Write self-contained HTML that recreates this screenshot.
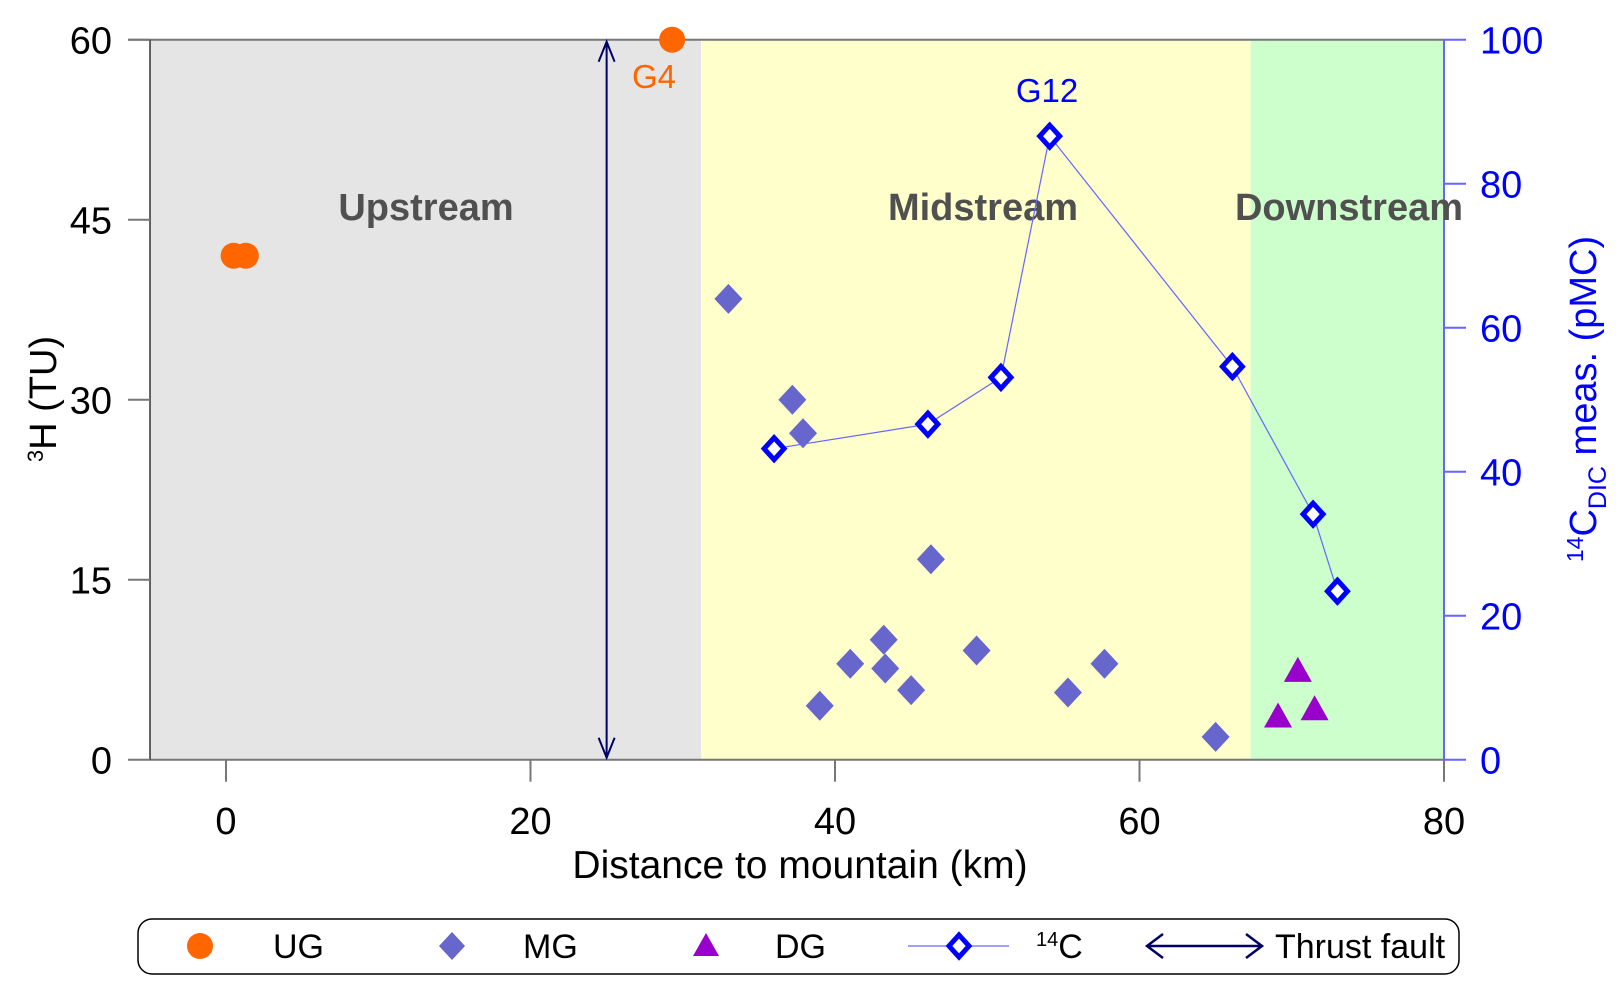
<!DOCTYPE html>
<html><head><meta charset="utf-8"><style>
body{margin:0;background:#fff;}
svg{display:block;font-family:"Liberation Sans",Arial,sans-serif;}
</style></head><body>
<svg id="chart" width="1618" height="992" viewBox="0 0 1618 992">
<g id="bg"></g><g id="axes"></g><g id="marks"></g><g id="legend"></g>
</svg>
<script>
const ugX=[0.5,1.3,29.3];
const ugY=[42,42,60];
const mgX=[33.0,37.2,37.9,46.3,43.2,41.0,43.3,49.3,45.0,39.0,55.3,57.7,65.0];
const mgY=[38.4,30,27.2,16.7,10.0,8.0,7.6,9.1,5.8,4.5,5.6,8.0,1.9];
const dgX=[69.1,70.4,71.5];
const dgY=[3.6,7.4,4.2];
const cX=[36.0,46.1,50.9,54.1,66.1,71.4,73.0];
const cY=[43.2,46.6,53.1,86.6,54.6,34.1,23.4];
const xTicks=[0,20,40,60,80];
const yTicks=[0,15,30,45,60];
const y2Ticks=[0,20,40,60,80,100];
const regions=[["upstream-region",-5,31.2,"#e5e5e5"],["midstream-region",31.2,67.3,"#ffffcc"],["downstream-region",67.3,80,"#ccffcc"]];
const faultX=25;

const NS="http://www.w3.org/2000/svg";
const X=d=>226+d*15.225, Y=v=>759.7-v*12.0, Y2=v=>759.7-v*7.2;
function mk(p,t,a,txt){const e=document.createElementNS(NS,t);for(const k in a)e.setAttribute(k,a[k]);if(txt!==undefined)e.textContent=txt;document.getElementById(p).appendChild(e);return e;}
let e;
regions.forEach(r=>{e=mk('bg','rect',{x:X(r[1]),y:Y(60),width:X(r[2])-X(r[1]),height:Y(0)-Y(60),fill:r[3]});

});
e=mk('axes','line',{x1:128,x2:1444,y1:Y(60),y2:Y(60),stroke:'#777','stroke-width':2});


e=mk('axes','line',{x1:150,x2:1444,y1:Y(0),y2:Y(0),stroke:'#777','stroke-width':2});


e=mk('axes','line',{x1:150,x2:150,y1:Y(60),y2:Y(0),stroke:'#333','stroke-width':1.5});


e=mk('axes','line',{x1:1444,x2:1444,y1:Y(60),y2:Y(0),stroke:'#6666ff','stroke-width':2});


yTicks.forEach(t=>{mk('axes','line',{x1:128,x2:150,y1:Y(t),y2:Y(t),stroke:'#777','stroke-width':2});
e=mk('axes','text',{x:112,y:Y(t)+14,'font-size':38,'text-anchor':'end',fill:'#000'},t);

});
xTicks.forEach(t=>{mk('axes','line',{x1:X(t),x2:X(t),y1:Y(0),y2:Y(0)+22,stroke:'#777','stroke-width':2});
e=mk('axes','text',{x:X(t),y:834,'font-size':38,'text-anchor':'middle',fill:'#000'},t);

});
y2Ticks.forEach(t=>{mk('axes','line',{x1:1444,x2:1466,y1:Y2(t),y2:Y2(t),stroke:'#6666ff','stroke-width':2});
e=mk('axes','text',{x:1480,y:Y2(t)+14,'font-size':38,fill:'#0000ff'},t);

});
e=mk('axes','text',{x:800,y:878,'font-size':39,'text-anchor':'middle',fill:'#000'},'Distance to mountain (km)');


e=mk('axes','text',{transform:'translate(56,399) rotate(-90)','font-size':38,'text-anchor':'middle',fill:'#000'});
e.innerHTML='<tspan font-size="22" dy="-13">3</tspan><tspan dy="13">H (TU)</tspan>';


e=mk('axes','text',{transform:'translate(1596,399) rotate(-90)','font-size':38,'text-anchor':'middle',fill:'#0000ff'});
e.innerHTML='<tspan font-size="23" dy="-13">14</tspan><tspan dy="13">C</tspan><tspan font-size="25" dy="10">DIC</tspan><tspan dy="-10"> meas. (pMC)</tspan>';


[["Upstream",426,"upstream-label"],["Midstream",983,"midstream-label"],["Downstream",1349,"downstream-label"]].forEach(l=>{
e=mk('axes','text',{x:l[1],y:220,'font-size':38,'font-weight':'bold','text-anchor':'middle',fill:'#505050'},l[0]);

});
e=mk('marks','line',{x1:X(faultX),x2:X(faultX),y1:Y(60)+2,y2:Y(0)-2,stroke:'#000066','stroke-width':2});


mk('marks','path',{d:`M${X(faultX)-8},${Y(60)+22}L${X(faultX)},${Y(60)+2}L${X(faultX)+8},${Y(60)+22}M${X(faultX)-8},${Y(0)-22}L${X(faultX)},${Y(0)-2}L${X(faultX)+8},${Y(0)-22}`,stroke:'#000066','stroke-width':2,fill:'none'});
ugX.forEach((x,i)=>{e=mk('marks','circle',{cx:X(x),cy:Y(ugY[i]),r:13,fill:'#ff6600'});

});
e=mk('marks','text',{x:654,y:88,'font-size':33,'text-anchor':'middle',fill:'#ff6600'},'G4');


mgX.forEach((x,i)=>{const cx=X(x),cy=Y(mgY[i]);e=mk('marks','path',{d:`M${cx},${cy-15}L${cx+14},${cy}L${cx},${cy+15}L${cx-14},${cy}Z`,fill:'#6666cc'});

});
dgX.forEach((x,i)=>{const cx=X(x),cy=Y(dgY[i]);e=mk('marks','path',{d:`M${cx},${cy-14}L${cx+14},${cy+11}L${cx-14},${cy+11}Z`,fill:'#9900cc'});

});
e=mk('marks','polyline',{points:cX.map((x,i)=>X(x)+','+Y2(cY[i])).join(' '),fill:'none',stroke:'#6666ff','stroke-width':1.2});


cX.forEach((x,i)=>{const cx=X(x),cy=Y2(cY[i]);e=mk('marks','path',{d:`M${cx},${cy-11}L${cx+10},${cy}L${cx},${cy+11}L${cx-10},${cy}Z`,fill:'#fff',stroke:'#0000ff','stroke-width':5});

});
e=mk('marks','text',{x:1047,y:102,'font-size':33,'text-anchor':'middle',fill:'#0000ff'},'G12');


e=mk('legend','rect',{x:138,y:919,width:1321,height:55,rx:14,fill:'#fff',stroke:'#000','stroke-width':1.5});


const ly=946;
mk('legend','circle',{cx:200,cy:ly,r:13,fill:'#ff6600'});
mk('legend','path',{d:`M452,${ly-14}L465,${ly}L452,${ly+14}L439,${ly}Z`,fill:'#6666cc'});
mk('legend','path',{d:`M706,${ly-13}L719,${ly+10}L693,${ly+10}Z`,fill:'#9900cc'});
mk('legend','line',{x1:908,x2:1009,y1:ly,y2:ly,stroke:'#6666ff','stroke-width':1.2});
mk('legend','path',{d:`M959,${ly-11}L969,${ly}L959,${ly+11}L949,${ly}Z`,fill:'#fff',stroke:'#0000ff','stroke-width':5});
mk('legend','path',{d:`M1147,${ly}H1262M1163,${ly-12}L1147,${ly}L1163,${ly+12}M1246,${ly-12}L1262,${ly}L1246,${ly+12}`,stroke:'#000066','stroke-width':2.5,fill:'none'});
[["UG",273,"legend-ug"],["MG",523,"legend-mg"],["DG",775,"legend-dg"],["Thrust fault",1275,"legend-thrust-fault"]].forEach(l=>{
e=mk('legend','text',{x:l[1],y:ly+12,'font-size':34,fill:'#000'},l[0]);

});
e=mk('legend','text',{x:1036,y:ly+12,'font-size':34,fill:'#000'});
e.innerHTML='<tspan font-size="20" dy="-12">14</tspan><tspan dy="12">C</tspan>';


</script>
</body></html>
